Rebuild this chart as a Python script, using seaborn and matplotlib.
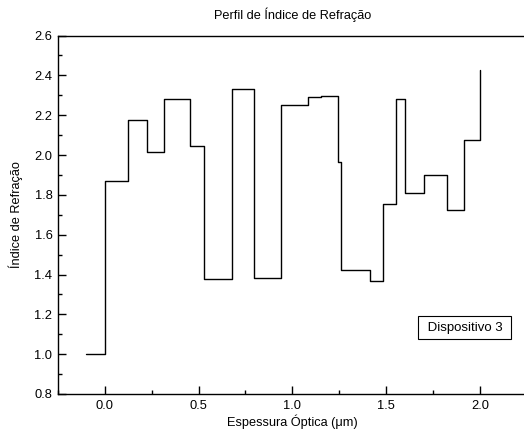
import matplotlib
matplotlib.use("Agg")
import pandas as pd
import seaborn as sns
import matplotlib.pyplot as plt
from matplotlib.ticker import MultipleLocator

# step edges (optical thickness, um) and refractive index of each layer
espessura = [-0.1, 0.0, 0.123, 0.222, 0.318, 0.456, 0.531, 0.679, 0.794, 0.941, 1.082,
             1.153, 1.242, 1.261, 1.416, 1.482, 1.554, 1.599, 1.702, 1.825, 1.917, 2.0]
indice = [1.0, 1.871, 2.177, 2.017, 2.282, 2.045, 1.376, 2.334, 1.381, 2.250, 2.294,
          2.297, 1.964, 1.425, 1.365, 1.756, 2.280, 1.809, 1.901, 1.724, 2.077, 2.429]

df = pd.DataFrame({"x": espessura, "n": indice})

sns.set_style("ticks", {"axes.edgecolor": "black", "text.color": "black",
                        "axes.labelcolor": "black", "xtick.color": "black",
                        "ytick.color": "black"})
plt.rcParams['font.family'] = ['Liberation Sans', 'DejaVu Sans']
plt.rcParams['xtick.direction'] = 'in'
plt.rcParams['ytick.direction'] = 'in'

fig = plt.figure(figsize=(5.24, 4.34), dpi=100)
ax = fig.add_axes([0.1107, 0.0922, 0.8945, 0.8258])

sns.lineplot(data=df, x="x", y="n", ax=ax, sort=False, estimator=None,
             drawstyle="steps-post", color="black", linewidth=1.0)

ax.set_xlim(-0.25, 2.25)
ax.set_ylim(0.8, 2.6)
ax.xaxis.set_major_locator(MultipleLocator(0.5))
ax.xaxis.set_minor_locator(MultipleLocator(0.25))
ax.yaxis.set_major_locator(MultipleLocator(0.2))
ax.yaxis.set_minor_locator(MultipleLocator(0.1))
ax.tick_params(which="major", length=5.5, width=1, labelsize=9.3, pad=4, colors="black")
ax.tick_params(which="minor", length=3, width=1, colors="black")
ax.xaxis.set_major_formatter(plt.FormatStrFormatter("%.1f"))
ax.yaxis.set_major_formatter(plt.FormatStrFormatter("%.1f"))
for s in ax.spines.values():
    s.set_linewidth(1.0)
    s.set_color("black")

ax.set_title("Perfil de Índice de Refração", fontsize=9.2, pad=12, color="black")
ax.set_xlabel("Espessura Óptica (μm)", fontsize=9.2, labelpad=2, color="black")
ax.set_ylabel("Índice de Refração", fontsize=9.2, labelpad=8, color="black")

ax.text(0.868, 0.1855, " Dispositivo 3 ", transform=ax.transAxes, fontsize=9.5,
        ha="center", va="center", color="black",
        bbox=dict(boxstyle="square,pad=0.4", facecolor="white", edgecolor="black", linewidth=0.8))

fig.savefig("out.png", dpi=100)
